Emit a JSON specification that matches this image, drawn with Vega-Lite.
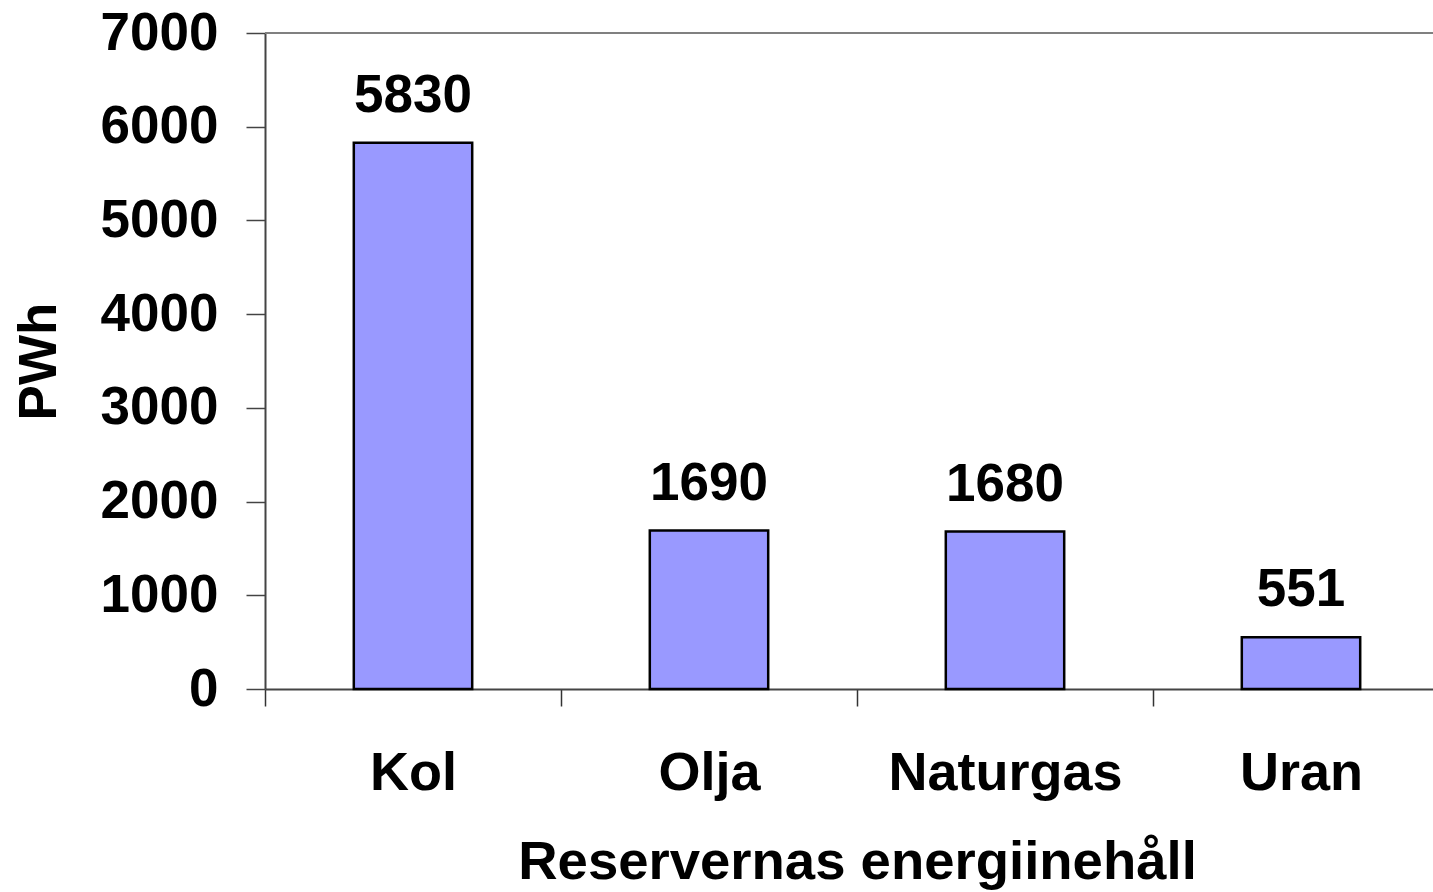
{
  "$schema": "https://vega.github.io/schema/vega-lite/v6.json",
  "width": 1184,
  "height": 656,
  "autosize": {"type": "none"},
  "padding": {"left": 265, "top": 33, "right": 0, "bottom": 203},
  "background": "white",
  "config": {"view": {"stroke": null}, "font": "Liberation Sans"},
  "data": {
    "values": [
      {"kategori": "Kol", "PWh": 5830},
      {"kategori": "Olja", "PWh": 1690},
      {"kategori": "Naturgas", "PWh": 1680},
      {"kategori": "Uran", "PWh": 551}
    ]
  },
  "encoding": {
    "x": {
      "field": "kategori",
      "type": "nominal",
      "sort": null,
      "scale": {"paddingInner": 0, "paddingOuter": 0},
      "axis": {
        "title": "Reservernas energiinehåll",
        "titleFontSize": 54.5,
        "titleFontWeight": "bold",
        "titleColor": "black",
        "titlePadding": 35,
        "labelFontSize": 54,
        "labelFontWeight": "bold",
        "labelColor": "black",
        "labelAngle": 0,
        "labelPadding": 40,
        "labelLimit": 0,
        "tickBand": "extent",
        "tickSize": 17,
        "tickColor": "#333333",
        "tickWidth": 1.5,
        "domainColor": "#444444",
        "domainWidth": 2,
        "grid": false
      }
    },
    "y": {
      "field": "PWh",
      "type": "quantitative",
      "scale": {"domain": [0, 7000], "nice": false},
      "axis": {
        "title": "PWh",
        "titleFontSize": 53,
        "titleFontWeight": "bold",
        "titleColor": "black",
        "titlePadding": 34,
        "labelFontSize": 53,
        "labelFontWeight": "bold",
        "labelColor": "black",
        "labelPadding": 28,
        "values": [0, 1000, 2000, 3000, 4000, 5000, 6000, 7000],
        "format": "d",
        "tickSize": 19,
        "tickColor": "#444444",
        "tickWidth": 1.5,
        "domainColor": "#444444",
        "domainWidth": 2,
        "grid": false
      }
    }
  },
  "layer": [
    {
      "mark": {"type": "rule", "color": "#808080", "strokeWidth": 2},
      "encoding": {"y": {"datum": 7000, "type": "quantitative"}, "x": null}
    },
    {
      "mark": {"type": "bar", "fill": "#9999FF", "stroke": "black", "strokeWidth": 2.5, "width": {"band": 0.4}}
    },
    {
      "mark": {"type": "text", "fontSize": 53, "fontWeight": "bold", "baseline": "alphabetic", "dy": -31, "color": "black"},
      "encoding": {"text": {"field": "PWh", "type": "quantitative", "format": "d"}}
    }
  ]
}
